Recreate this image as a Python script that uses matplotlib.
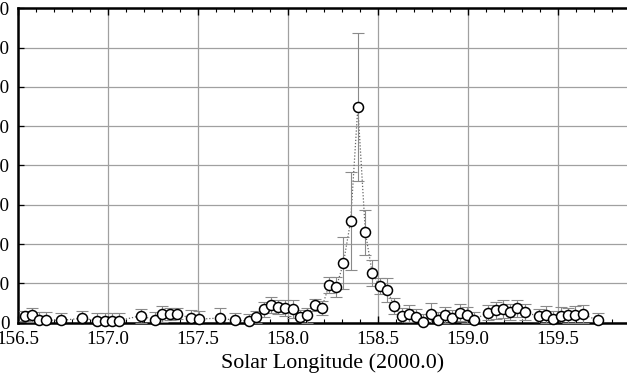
import matplotlib
matplotlib.use("Agg")
import matplotlib.pyplot as plt
from matplotlib.ticker import MultipleLocator

plt.rcParams['font.family'] = ['Liberation Serif', 'DejaVu Serif']

# Solar longitude (deg, J2000.0)
sol_long = [156.539, 156.578, 156.618, 156.659, 156.739, 156.859, 156.942, 156.982,
            157.021, 157.061, 157.183, 157.264, 157.303, 157.344, 157.385, 157.461,
            157.506, 157.626, 157.706, 157.785, 157.826, 157.867, 157.906, 157.948,
            157.986, 158.027, 158.067, 158.107, 158.149, 158.189, 158.229, 158.270,
            158.309, 158.349, 158.389, 158.431, 158.469, 158.510, 158.551, 158.591,
            158.632, 158.672, 158.713, 158.750, 158.793, 158.832, 158.872, 158.913,
            158.954, 158.994, 159.034, 159.113, 159.156, 159.196, 159.234, 159.276,
            159.317, 159.393, 159.433, 159.474, 159.516, 159.557, 159.597, 159.638,
            159.721]
rate = [1.65, 1.9, 0.63, 0.63, 0.58, 1.14, 0.5, 0.5,
        0.5, 0.5, 1.78, 0.63, 2.16, 2.28, 2.28, 1.14,
        0.9, 1.2, 0.58, 0.43, 1.4, 3.38, 4.52, 4.06,
        3.73, 3.48, 1.52, 1.9, 4.44, 3.81, 9.5, 9.14,
        15.15, 25.84, 54.8, 22.97, 12.64, 9.39, 8.38, 4.24,
        1.65, 2.28, 1.4, 0.3, 2.28, 0.71, 1.9, 1.14,
        2.59, 1.95, 0.76, 2.59, 3.12, 3.6, 2.72, 3.63,
        2.72, 1.6, 2.03, 0.96, 1.83, 1.85, 2.08, 2.23,
        0.58]
rate_err = [1.3, 1.8, 2.0, 2.2, 1.8, 1.9, 2.0, 2.0,
            2.0, 2.0, 1.8, 2.2, 2.1, 1.5, 1.4, 2.2,
            2.2, 2.5, 1.9, 1.8, 1.6, 2.0, 2.1, 1.8,
            2.0, 2.3, 1.8, 1.9, 1.5, 1.8, 2.0, 2.5,
            6.6, 12.4, 18.8, 5.7, 3.3, 2.0, 3.0, 2.0,
            2.2, 2.2, 2.2, 1.8, 2.7, 2.0, 2.0, 2.0,
            2.2, 2.0, 2.0, 2.0, 2.2, 2.3, 2.0, 2.2,
            2.0, 2.0, 2.2, 2.0, 2.2, 2.0, 2.2, 2.2,
            1.8]

x_ticks = [156.5, 157.0, 157.5, 158.0, 158.5, 159.0, 159.5, 160.0]
x_ticklabels = ['156.5', '157.0', '157.5', '158.0', '158.5', '159.0', '159.5', '160.0']
y_ticks = [0, 10, 20, 30, 40, 50, 60, 70, 80]
y_ticklabels = ['0', '10', '20', '30', '40', '50', '60', '70', '80']

W, H = 627, 376
fig = plt.figure(figsize=(W / 100, H / 100), dpi=100)
left_px, right_px = 17.8, 17.8 + 630.0
top_px, bot_px = 8.2, 322.7
ax = fig.add_axes([left_px / W, (H - bot_px) / H, (right_px - left_px) / W, (bot_px - top_px) / H])

ax.plot(sol_long, rate, linestyle=(0, (1, 1.5)), color='#666666', lw=0.9, zorder=2)
ax.errorbar(sol_long, rate, yerr=rate_err, fmt='none', ecolor='#8a8a8a',
            elinewidth=0.8, capsize=4, capthick=0.8, zorder=3)
ax.plot(sol_long, rate, 'o', ms=7.2, mfc='white', mec='black', mew=1.1, zorder=4,
        clip_on=False)

ax.set_xlim(156.5, 160.0)
ax.set_ylim(0, 80)
ax.set_xticks(x_ticks)
ax.set_xticklabels(x_ticklabels)
ax.set_yticks(y_ticks)
ax.set_yticklabels(y_ticklabels)
ax.xaxis.set_minor_locator(MultipleLocator(0.1))

ax.grid(True, which='major', color='#a0a0a0', lw=0.9)
ax.set_axisbelow(True)

ax.tick_params(axis='both', which='both', direction='in', top=True, bottom=True,
               left=True, right=False, labelsize=13.8, color='black')
ax.tick_params(axis='x', which='major', length=5, width=1.0, pad=6)
ax.tick_params(axis='x', which='minor', length=3, width=0.8)
ax.tick_params(axis='y', which='major', length=4, width=0.9, pad=6)

for side in ['top', 'left', 'bottom']:
    ax.spines[side].set_linewidth(1.8)
ax.spines['right'].set_visible(False)

ax.set_xlabel('Solar Longitude (2000.0)', fontsize=15.8, labelpad=4)

fig.savefig('out.png', dpi=100)
